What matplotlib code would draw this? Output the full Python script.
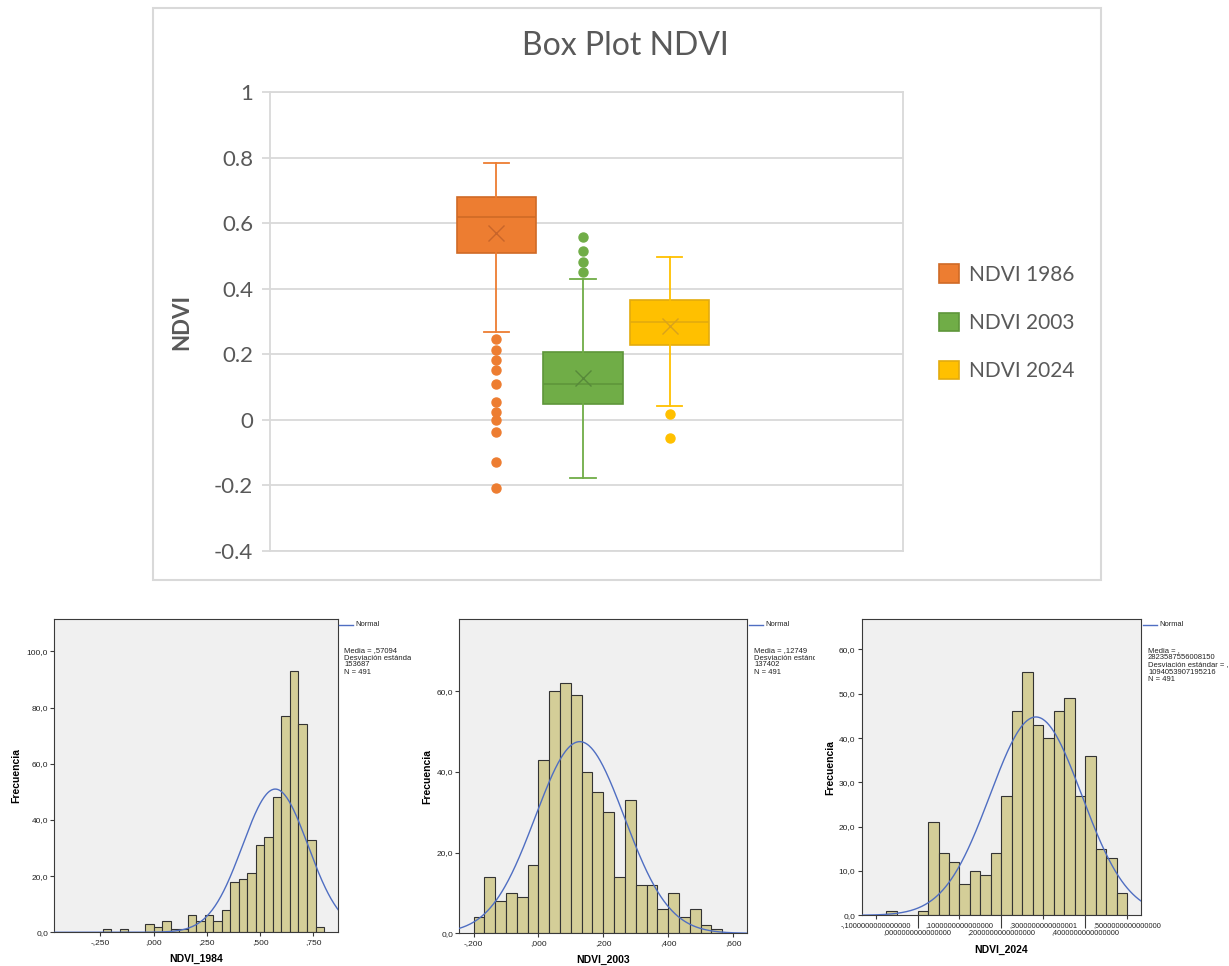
import numpy as np
import matplotlib
matplotlib.use("Agg")
import matplotlib.pyplot as plt
from matplotlib.patches import Patch, Rectangle
from matplotlib.lines import Line2D
from matplotlib.transforms import Bbox, TransformedBbox

plt.rcParams['font.family'] = ['Lato', 'DejaVu Sans']

W, H = 1229, 966

# ---- box plot values ----
series = ["NDVI 1986", "NDVI 2003", "NDVI 2024"]
q1 = [0.509, 0.048, 0.229]
med = [0.619, 0.110, 0.297]
q3 = [0.680, 0.206, 0.365]
means = [0.571, 0.127, 0.285]
whis_lo = [0.267, -0.176, 0.043]
whis_hi = [0.784, 0.430, 0.497]
fliers = [[0.248, 0.213, 0.182, 0.151, 0.109, 0.055, 0.023, 0.0, -0.038, -0.128, -0.207],
          [0.558, 0.516, 0.480, 0.451],
          [0.018, -0.055]]
ytick_vals = [1, 0.8, 0.6, 0.4, 0.2, 0, -0.2, -0.4]
ytick_labels = ["1", "0.8", "0.6", "0.4", "0.2", "0", "-0.2", "-0.4"]
fills = ["#ED7D31", "#70AD47", "#FFC000"]
edges = ["#CF6A26", "#5E963A", "#E3AB0E"]
marks = ["#C8652A", "#57893A", "#D9A21C"]

# ---- histogram values (SPSS output) ----
h84_start, h84_width = -0.24, 0.04
h84_counts = [1, 0, 1, 0, 0, 3, 2, 4, 1, 1, 6, 4, 6, 4, 8, 18, 19, 21, 31, 34, 48, 77, 93, 74, 33, 2]
h84_mean, h84_sd, h84_n = 0.57094, 0.153687, 491

h03_start, h03_width = -0.2, 1 / 30
h03_counts = [4, 14, 8, 10, 9, 17, 43, 60, 62, 59, 40, 35, 30, 14, 33, 12, 12, 6, 10, 4, 6, 2, 1]
h03_mean, h03_sd, h03_n = 0.12749, 0.137402, 491

h24_start, h24_width = -0.075, 0.025
h24_counts = [1, 0, 0, 1, 21, 14, 12, 7, 10, 9, 14, 27, 46, 55, 43, 40, 46, 49, 27, 36, 15, 13, 5]
h24_mean, h24_sd, h24_n = 0.2823587556008150, 0.1094053907195216, 491
h24_ticks_top = [-0.1, 0.1, 0.3, 0.5]
h24_labels_top = ["-,1000000000000000", ",1000000000000000", ",3000000000000001", ",5000000000000000"]
h24_ticks_low = [0.0, 0.2, 0.4]
h24_labels_low = [",0000000000000000", ",2000000000000000", ",4000000000000000"]

fig = plt.figure(figsize=(W / 100, H / 100), dpi=100)
fig.patch.set_facecolor("white")

# border of the Excel chart
fig.add_artist(Rectangle((153 / W, 1 - 580 / H), 948 / W, 572 / H, transform=fig.transFigure,
                         fill=False, edgecolor="#D9D9D9", lw=1.5))

ax = fig.add_axes([270 / W, 1 - 551 / H, 633 / W, 459 / H])
for i in range(3):
    st = dict(label=series[i], q1=q1[i], med=med[i], q3=q3[i], mean=means[i],
              whislo=whis_lo[i], whishi=whis_hi[i], fliers=fliers[i])
    ax.bxp([st], positions=[i + 1], widths=0.92, capwidths=0.29, patch_artist=True, showmeans=True,
           boxprops=dict(facecolor=fills[i], edgecolor=edges[i], lw=1.2),
           medianprops=dict(color=edges[i], lw=1.2),
           whiskerprops=dict(color=fills[i], lw=1.3),
           capprops=dict(color=fills[i], lw=1.3),
           meanprops=dict(marker='x', markeredgecolor=marks[i], markersize=11, mew=1.0),
           flierprops=dict(marker='o', markerfacecolor=fills[i], markeredgecolor=fills[i], markersize=6.5))
ax.set_xlim(-1.618, 5.699)
ax.set_ylim(-0.4, 1)
ax.set_xticks([])
ax.set_yticks(ytick_vals)
ax.set_yticklabels(ytick_labels)
ax.grid(axis='y', color="#D9D9D9", lw=1.3)
ax.set_axisbelow(True)
for s in ax.spines.values():
    s.set_color("#D9D9D9")
    s.set_linewidth(1.3)
ax.tick_params(axis='y', length=6, width=1.3, color="#D9D9D9", labelsize=16, labelcolor="#595959", pad=6)

fig.text(625 / W, 1 - 46 / H, "Box Plot NDVI", ha='center', va='center', fontsize=23, color="#595959")
fig.text(182 / W, 1 - 322 / H, "NDVI", ha='center', va='center', rotation=90, fontsize=16,
         fontweight='bold', color="#595959")

handles = [Patch(facecolor=fills[i], edgecolor=edges[i], lw=1.2, label=series[i]) for i in range(3)]
ax.legend(handles=handles, loc='upper left', bbox_to_anchor=(929 / W, 1 - 254 / H),
          bbox_transform=fig.transFigure, frameon=False, fontsize=15, labelcolor="#595959",
          handlelength=0.96, handleheight=0.96, handletextpad=0.45, labelspacing=1.35, borderpad=0)


# ---- SPSS histograms ----
def fmt(v, digits):
    s = f"{v:.{digits}f}"
    if s.startswith("-0"):
        s = "-" + s[2:]
    elif s.startswith("0"):
        s = s[1:]
    return s.replace(".", ",")


def hist_panel(rect, start, width, counts, mean, sd, n, xlim, ylim, xticks, yticks, xlabel):
    hx = fig.add_axes(rect)
    hx.set_facecolor("#F0F0F0")
    lefts = start + width * np.arange(len(counts))
    cnt = np.array(counts)
    keep = cnt > 0
    hx.bar(lefts[keep], cnt[keep], width=width, align='edge', color="#D4CE98",
           edgecolor="#333333", lw=0.8, zorder=2)
    xs = np.linspace(xlim[0], xlim[1], 400)
    ys = n * width / (sd * np.sqrt(2 * np.pi)) * np.exp(-0.5 * ((xs - mean) / sd) ** 2)
    hx.plot(xs, ys, color="#4F6EC2", lw=1.0, zorder=3)
    hx.set_xlim(*xlim)
    hx.set_ylim(*ylim)
    hx.set_xticks(xticks)
    hx.set_yticks(yticks)
    hx.set_yticklabels([f"{v:.1f}".replace(".", ",") for v in yticks])
    for s in hx.spines.values():
        s.set_color("#3A3A3A")
        s.set_linewidth(0.8)
    hx.tick_params(length=3, width=0.8, color="#3A3A3A", labelsize=6, pad=1.5, labelcolor="#222222")
    hx.set_xlabel(xlabel, fontsize=7.5, fontweight='bold', family='Liberation Sans', labelpad=6)
    hx.set_ylabel("Frecuencia", fontsize=7.5, fontweight='bold', family='Liberation Sans')
    for lab in hx.get_xticklabels() + hx.get_yticklabels():
        lab.set_family('Liberation Sans')
    return hx


h1 = hist_panel([54.3 / W, 1 - 932.3 / H, 284 / W, 313 / H], h84_start, h84_width, h84_counts,
                h84_mean, h84_sd, h84_n, (-0.467, 0.867), (0, 111.4),
                [-0.25, 0, 0.25, 0.5, 0.75], [0, 20, 40, 60, 80, 100], "NDVI_1984")
h1.set_xticklabels([fmt(v, 3) for v in [-0.25, 0, 0.25, 0.5, 0.75]], family='Liberation Sans')
h1.yaxis.set_label_coords(-0.115, 0.5)

h2 = hist_panel([459.3 / W, 1 - 933.3 / H, 288 / W, 314 / H], h03_start, h03_width, h03_counts,
                h03_mean, h03_sd, h03_n, (-0.244, 0.644), (0, 77.85),
                [-0.2, 0, 0.2, 0.4, 0.6], [0, 20, 40, 60], "NDVI_2003")
h2.set_xticklabels([fmt(v, 3) for v in [-0.2, 0, 0.2, 0.4, 0.6]], family='Liberation Sans')
h2.yaxis.set_label_coords(-0.095, 0.5)

h3 = hist_panel([861.7 / W, 1 - 915.3 / H, 279.6 / W, 296 / H], h24_start, h24_width, h24_counts,
                h24_mean, h24_sd, h24_n, (-0.1334, 0.534), (0, 66.8),
                h24_ticks_top, [0, 10, 20, 30, 40, 50, 60], "NDVI_2024")
# SPSS staggers the long labels on two rows: short ticks on top row, long ticks for the lower row
h3.set_xticklabels(h24_labels_top, fontsize=5.3, family='Liberation Sans')
h3.set_xticks(h24_ticks_low, minor=True)
h3.set_xticklabels(h24_labels_low, minor=True, fontsize=5.3, family='Liberation Sans')
h3.tick_params(axis='x', which='minor', length=9.5, width=0.8, color="#3A3A3A", pad=0.6,
               labelcolor="#222222")
h3.yaxis.set_label_coords(-0.095, 0.5)


# legend line + stats text to the right of each histogram
def side_text(x0, lines, clip_x):
    fig.add_artist(Line2D([x0 / W, (x0 + 14) / W], [1 - 625 / H, 1 - 625 / H],
                          transform=fig.transFigure, color="#4F6EC2", lw=1.0))
    fig.text((x0 + 16) / W, 1 - 625 / H, "Normal", fontsize=5.4, va='center', family='Liberation Sans',
             color="#222222")
    t = fig.text((x0 + 5) / W, 1 - 647 / H, "\n".join(lines), fontsize=5.5, va='top', family='Liberation Sans',
                 linespacing=1.05, color="#222222")
    t.set_clip_box(TransformedBbox(Bbox.from_extents(0, 0, clip_x / W, 1), fig.transFigure))
    t.set_clip_on(True)


side_text(339, ["Media = ,57094", "Desviación estándar = ,", "153687", "N = 491"], 411)
side_text(749, ["Media = ,12749", "Desviación estándar = ,", "137402", "N = 491"], 815)
side_text(1143, ["Media = ,", "2823587556008150", "Desviación estándar = ,", "1094053907195216", "N = 491"], W)

fig.savefig("out.png", dpi=100)
